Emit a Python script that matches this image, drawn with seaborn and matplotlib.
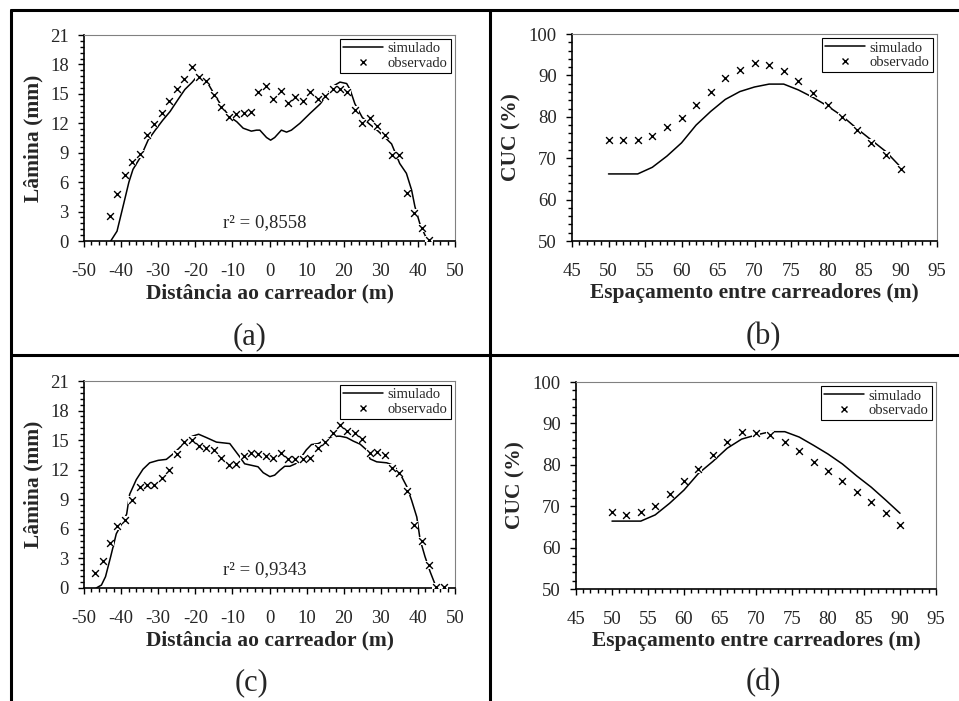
import numpy as np
import matplotlib
matplotlib.use("Agg")
import matplotlib.pyplot as plt
import seaborn as sns
import pandas as pd
from matplotlib.lines import Line2D
from matplotlib.ticker import MultipleLocator

# (a) lamina x distancia, simulado
sim_a_x = [-42.8, -41.1, -39.3, -37.9, -36.8, -34.7, -32.7, -30.8, -28.8, -26.8, -24.7, -22.8,
           -20.8, -19.7, -18.8, -16.8, -14.8, -12.8, -10.8, -8.8, -7.1, -4.9, -3.5, -2.6, -0.8,
           0.3, 1.4, 3.2, 4.6, 5.9, 8.2, 10.9, 13.6, 15.4, 17.2, 19.0, 20.8, 21.7, 23.0, 25.0,
           27.0, 29.0, 31.0, 32.9, 35.1, 36.9, 38.3, 39.2, 40.5, 41.9, 42.8]
sim_a_y = [0, 1.0, 3.8, 6.0, 7.3, 8.6, 10.3, 11.3, 12.3, 13.2, 14.4, 15.45,
           16.2, 16.7, 16.6, 16.2, 14.9, 13.7, 12.7, 12.15, 11.5, 11.2, 11.3, 11.3, 10.55,
           10.28, 10.55, 11.3, 11.1, 11.3, 12.0, 13.0, 13.95, 14.9, 15.8, 16.2, 16.05, 15.45, 14.0, 12.6,
           11.9, 11.3, 10.6, 9.9, 7.9, 6.9, 5.2, 3.5, 1.8, 0.6, 0]
# (a) observado
obs_a_x = [-43, -41, -39, -37, -35, -33, -31, -29, -27, -25, -23, -21, -19, -17, -15, -13, -11,
           -9, -7, -5, -3, -1, 1, 3, 5, 7, 9, 11, 13, 15, 17, 19, 21, 23, 25, 27, 29, 31, 33,
           35, 37, 39, 41, 43]
obs_a_y = [2.55, 4.83, 6.77, 8.07, 8.85, 10.8, 11.9, 13.07, 14.3, 15.45, 16.5, 17.77, 16.68,
           16.34, 14.87, 13.68, 12.6, 12.9, 13.07, 13.2, 15.15, 15.8, 14.5, 15.3, 14.1, 14.7,
           14.26, 15.2, 14.5, 14.8, 15.45, 15.45, 15.2, 13.4, 12.05, 12.5, 11.7, 10.8, 8.75,
           8.75, 4.9, 2.86, 1.33, 0.07]

# (c) lamina x distancia, simulado
sim_c_x = [-46.7, -45.3, -44.2, -42.8, -41.3, -40.0, -38.5, -37.7, -35.9, -34.1, -32.3, -30.0,
           -27.8, -26.0, -24.2, -22.4, -20.8, -19.1, -17.0, -14.3, -10.7, -9.4, -8.0, -6.7, -4.9,
           -3.1, -1.7, 0.1, 1.4, 2.8, 4.1, 5.5, 7.0, 8.6, 9.9, 11.3, 13.1, 15.0, 17.0, 19.0,
           20.8, 22.6, 24.4, 26.2, 27.1, 28.9, 31.6, 33.4, 35.2, 37.0, 38.3, 39.7, 40.6, 41.9,
           43.3, 44.7, 45.6]
sim_c_y = [0, 0.3, 1.15, 3.2, 5.5, 6.4, 7.5, 9.5, 11.0, 12.05, 12.7, 12.95,
           13.05, 13.6, 14.25, 15.0, 15.4, 15.6, 15.26, 14.8, 14.65, 14.0, 13.3, 12.6, 12.45,
           12.3, 11.7, 11.3, 11.45, 11.95, 12.35, 12.35, 12.6, 13.3, 14.0, 14.55, 14.65, 15.0, 15.4, 15.4,
           15.26, 14.9, 14.6, 14.0, 13.1, 12.8, 12.7, 12.45, 11.6, 10.3, 8.9, 7.2, 4.9, 3.2,
           1.65, 0.3, 0]
obs_c_x = [-47, -45, -43, -41, -39, -37, -35, -33, -31, -29, -27, -25, -23, -21, -19, -17, -15,
           -13, -11, -9, -7, -5, -3, -1, 1, 3, 5, 7, 9, 11, 13, 15, 17, 19, 21, 23, 25, 27, 29,
           31, 33, 35, 37, 39, 41, 43, 45, 47]
obs_c_y = [1.55, 2.7, 4.6, 6.25, 6.85, 8.9, 10.2, 10.4, 10.5, 11.2, 12.0, 13.6, 14.8, 15.0,
           14.4, 14.2, 14.0, 13.2, 12.5, 12.6, 13.4, 13.7, 13.6, 13.4, 13.2, 13.7, 13.1, 13.1,
           13.1, 13.2, 14.2, 14.8, 15.7, 16.5, 15.9, 15.7, 15.1, 13.7, 13.8, 13.5, 12.2, 11.7,
           9.8, 6.4, 4.8, 2.3, 0.1, 0.1]

# (b) e (d) CUC x espacamento
esp = [50, 52, 54, 56, 58, 60, 62, 64, 66, 68, 70, 72, 74, 76, 78, 80, 82, 84, 86, 88, 90]
sim_b = [66.2, 66.2, 66.2, 67.8, 70.5, 73.7, 78.0, 81.3, 84.2, 86.1, 87.2, 87.9, 87.9, 86.5,
         84.7, 82.6, 80.2, 77.2, 74.4, 71.6, 67.9]
obs_b = [74.4, 74.4, 74.4, 75.4, 77.5, 79.7, 82.9, 86.1, 89.3, 91.4, 93.0, 92.5, 91.1, 88.6,
         85.7, 82.9, 80.0, 76.8, 73.7, 70.8, 67.5]
sim_d = [66.4, 66.4, 66.4, 67.9, 70.7, 73.9, 77.9, 80.8, 84.0, 86.2, 87.2, 88.0, 88.0, 86.7,
         84.7, 82.6, 80.2, 77.3, 74.6, 71.5, 68.3]
obs_d = [68.6, 67.9, 68.6, 70.0, 72.9, 76.1, 78.9, 82.4, 85.6, 87.9, 87.8, 87.1, 85.6, 83.4,
         80.6, 78.5, 76.1, 73.5, 71.1, 68.3, 65.4]

sns.set_style("white")
plt.rcParams['font.family'] = ['Liberation Serif', 'DejaVu Serif']
plt.rcParams['axes.unicode_minus'] = False

W, H = 959, 701
fig = plt.figure(figsize=(W / 100, H / 100), dpi=100)


def panel(rect, sx, sy, ox, oy, xlim, ylim, xmaj, xmin, ymaj, ymin, xlabel, ylabel, r2=None):
    l, t, r, b = rect
    ax = fig.add_axes([l / W, 1 - b / H, (r - l) / W, (b - t) / H])
    sns.lineplot(x=sx, y=sy, ax=ax, color='black', lw=1.1, sort=False, zorder=2)
    # crosses hide the line below them, like in the original
    sns.scatterplot(x=ox, y=oy, ax=ax, marker='s', s=34, color='white', linewidth=0, zorder=3)
    sns.scatterplot(x=ox, y=oy, ax=ax, marker='x', s=24, color='black', linewidth=1.0, zorder=4)
    ax.set_xlim(*xlim)
    ax.set_ylim(*ylim)
    ax.xaxis.set_major_locator(MultipleLocator(xmaj))
    ax.xaxis.set_minor_locator(MultipleLocator(xmin))
    ax.yaxis.set_major_locator(MultipleLocator(ymaj))
    ax.yaxis.set_minor_locator(MultipleLocator(ymin))
    ax.tick_params(which='both', direction='out', bottom=True, left=True, top=False, right=False,
                   color='black', width=1.0)
    ax.tick_params(which='major', length=4, labelsize=13.5)
    ax.tick_params(which='minor', length=3)
    ax.tick_params(axis='x', which='major', pad=12)
    ax.tick_params(axis='y', which='major', pad=7)
    for s in ['left', 'bottom']:
        ax.spines[s].set_color('black')
        ax.spines[s].set_linewidth(1.2)
    for s in ['top', 'right']:
        ax.spines[s].set_color('#808080')
        ax.spines[s].set_linewidth(0.8)
    ax.set_xlabel(xlabel, fontsize=15.5, fontweight='bold', labelpad=2)
    ax.set_ylabel(ylabel, fontsize=15.5, fontweight='bold', labelpad=5)
    handles = [Line2D([], [], color='black', lw=1.1),
               Line2D([], [], ls='none', marker='x', color='black', markersize=5, mew=1.0)]
    leg = ax.legend(handles, ['simulado', 'observado'], loc='upper right', fontsize=10.5,
                    frameon=True, fancybox=False, framealpha=1, edgecolor='black',
                    borderaxespad=0.3, borderpad=0.2, labelspacing=0.1,
                    handlelength=2.8, handletextpad=0.3)
    leg.get_frame().set_linewidth(0.8)
    if r2 is not None:
        ax.text(-1.3, 1.9, r2, fontsize=13.5, ha='center', va='center')
    return ax


panel((84, 35, 455, 241), sim_a_x, sim_a_y, obs_a_x, obs_a_y, (-50, 50), (0, 21), 10, 2, 3, 0.6,
      'Distância ao carreador (m)', 'Lâmina (mm)', 'r² = 0,8558')
panel((572, 34, 937, 241), esp, sim_b, esp, obs_b, (45, 95), (50, 100), 5, 1, 10, 2,
      'Espaçamento entre carreadores (m)', 'CUC (%)')
panel((84, 381, 455, 588), sim_c_x, sim_c_y, obs_c_x, obs_c_y, (-50, 50), (0, 21), 10, 2, 3, 0.6,
      'Distância ao carreador (m)', 'Lâmina (mm)', 'r² = 0,9343')
panel((576, 382, 936, 589), esp, sim_d, esp, obs_d, (45, 95), (50, 100), 5, 1, 10, 2,
      'Espaçamento entre carreadores (m)', 'CUC (%)')

# table frame around the panels
lw = 2.2
fx = lambda px: px / W
fy = lambda py: 1 - py / H
fig.add_artist(Line2D([fx(11), fx(11)], [0, fy(10)], color='black', lw=lw))
fig.add_artist(Line2D([fx(11), 1], [fy(10), fy(10)], color='black', lw=lw))
fig.add_artist(Line2D([fx(490), fx(490)], [0, fy(10)], color='black', lw=lw))
fig.add_artist(Line2D([fx(11), 1], [fy(355), fy(355)], color='black', lw=lw))

for lab, px, py in [('(a)', 250, 337), ('(b)', 763, 337), ('(c)', 252, 683), ('(d)', 763, 683)]:
    fig.text(fx(px), fy(py), lab, fontsize=22, ha='center', va='center')

fig.savefig('out.png', dpi=100)
